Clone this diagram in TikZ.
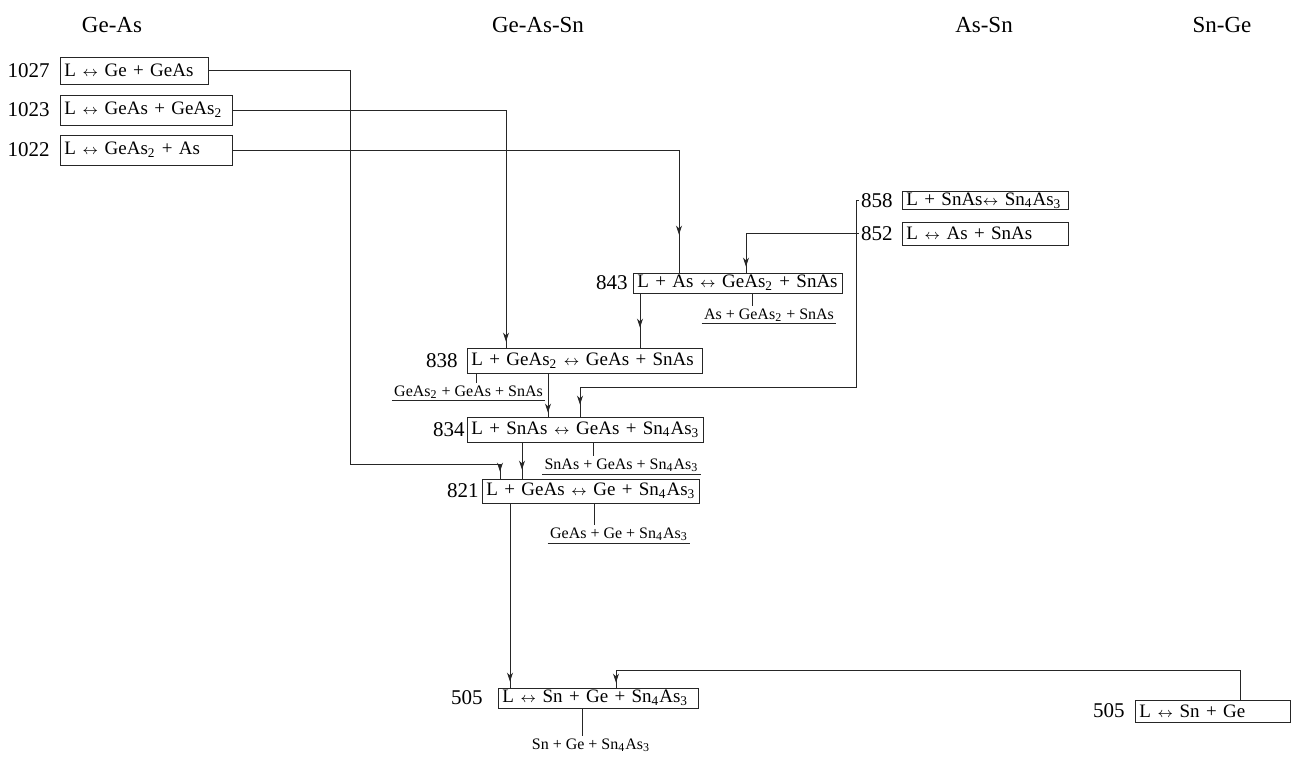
\documentclass[tikz,border=0pt]{standalone}
\usepackage{fontspec}
\setmainfont{Liberation Serif}
\usetikzlibrary{arrows.meta,positioning,decorations.markings}
\newcommand{\ix}[1]{\textsubscript{#1}}
\newcommand{\lr}{{\fontsize{7.5}{8}\selectfont$\leftrightarrow$}}
\tikzset{
  lw/.style={line width=0.45pt,draw=black!85},
  rbox/.style={draw,lw,inner xsep=2pt,inner ysep=1pt,align=left,text width=#1,anchor=west,font=\fontsize{9.5}{10}\selectfont},
  num/.style={inner sep=1pt,font=\fontsize{10.5}{12}\selectfont},
  ttl/.style={font=\fontsize{11.5}{13}\selectfont},
  prod/.style={inner sep=1pt,font=\fontsize{8}{9}\selectfont},
  conn/.style={lw,postaction={decorate},decoration={markings,mark=at position -#1 with {\arrow{Stealth[length=4.5pt,width=3pt]}}}},
  line/.style={lw},
}
\begin{document}
\begin{tikzpicture}[x=0.5pt,y=-0.5pt]
\useasboundingbox (0,0) rectangle (1296,756);
% system headings
\node[ttl] (tGeAs) at (112,25) {Ge-As};
\node[ttl] (tGeAsSn) at (538,25) {Ge-As-Sn};
\node[ttl] (tAsSn) at (984,25) {As-Sn};
\node[ttl] (tSnGe) at (1222,25) {Sn-Ge};
% binary Ge-As
\node[rbox=70pt,minimum height=13.5pt] (b1027) at (60,70.5) {L \lr\ Ge + GeAs};
\node[num,left=4pt of b1027] (n1027) {1027};
\node[rbox=82pt,minimum height=15pt] (b1023) at (60,110) {L \lr\ GeAs + GeAs\ix{2}};
\node[num,left=4pt of b1023] (n1023) {1023};
\node[rbox=82pt,minimum height=15pt] (b1022) at (60,150) {L \lr\ GeAs\ix{2} + As};
\node[num,left=4pt of b1022] (n1022) {1022};
% binary As-Sn
\node[rbox=79pt,inner ysep=0.5pt] (b858) at (902,200.5) {L + SnAs\lr\ Sn\ix{4}As\ix{3}};
\node[num,left=3.5pt of b858] (n858) {858};
\node[rbox=79pt,minimum height=11.5pt] (b852) at (902,233.5) {L \lr\ As + SnAs};
\node[num,left=3.5pt of b852] (n852) {852};
% ternary
\node[rbox=100.5pt,minimum height=10pt] (b843) at (633,283) {L + As \lr\ GeAs\ix{2} + SnAs};
\node[num,left=1.5pt of b843] (n843) {843};
\node[rbox=113.5pt,minimum height=12.5pt] (b838) at (467,360.5) {L + GeAs\ix{2} \lr\ GeAs + SnAs};
\node[num,left=3.5pt of b838] (n838) {838};
\node[rbox=114pt,minimum height=12.5pt] (b834) at (467,429.5) {L + SnAs \lr\ GeAs + Sn\ix{4}As\ix{3}};
\node[num,left=0pt of b834] (n834) {834};
\node[rbox=104.5pt,minimum height=12pt] (b821) at (482,491) {L + GeAs \lr\ Ge + Sn\ix{4}As\ix{3}};
\node[num,left=0.5pt of b821] (n821) {821};
\node[rbox=96pt,minimum height=10pt] (b505) at (498,698) {L \lr\ Sn + Ge + Sn\ix{4}As\ix{3}};
\node[num,left=6.5pt of b505] (n505) {505};
% binary Sn-Ge
\node[rbox=73.5pt,minimum height=11pt] (bSnGe) at (1135,711) {L \lr\ Sn + Ge};
\node[num,left=4pt of bSnGe] (nSnGe) {505};
% phase fields below the reactions
\node[prod] (s843) at (769,315) {As + GeAs\ix{2} + SnAs};
\node[prod] (s838) at (468.5,392) {GeAs\ix{2} + GeAs + SnAs};
\node[prod] (s834) at (621.5,465) {SnAs + GeAs + Sn\ix{4}As\ix{3}};
\node[prod] (s821) at (619,534) {GeAs + Ge + Sn\ix{4}As\ix{3}};
\node[prod] (s505) at (591,745) {Sn + Ge + Sn\ix{4}As\ix{3}};
\foreach \s in {s843,s838,s834,s821}
  \draw[line] (\s.south west) -- (\s.south east);
\draw[line] ([xshift=59.5pt]b843.south west) coordinate (u1) -- (u1 |- s843.north);
\draw[line] ([xshift=4.5pt]b838.south west) coordinate (u2) -- (u2 |- s838.north);
\draw[line] ([xshift=63pt]b834.south west) coordinate (u3) -- (u3 |- s834.north);
\draw[line] ([xshift=56pt]b821.south west) coordinate (u4) -- (u4 |- s821.north);
\draw[line] ([xshift=42pt]b505.south west) coordinate (u5) -- (u5 |- s505.north);
% connectors
\coordinate (j1027) at (350,464);
\coordinate (j858) at (856,387);
\coordinate (j505) at (616,670);
\draw[conn=3.5pt] (b1027.east) -| (j1027) -| ([xshift=9pt]b821.north west);
\draw[conn=3pt] (b1023.east) -| ([xshift=19.5pt]b838.north west);
\draw[conn=19pt] (b1022.east) -| ([xshift=23pt]b843.north west);
\draw[conn=3pt] (n852.west) -| ([xshift=56.5pt]b843.north west);
\draw[conn=6pt] (n858.west) -| (j858) -| ([xshift=56.5pt]b834.north west);
\draw[conn=10pt] ([xshift=3.5pt]b843.south west) coordinate (t1) -- (t1 |- b838.north);
\draw[conn=2pt] ([xshift=40.5pt]b838.south west) coordinate (t2) -- (t2 |- b834.north);
\draw[conn=4.5pt] ([xshift=27.5pt]b834.south west) coordinate (t3) -- (t3 |- b821.north);
\draw[conn=3pt] ([xshift=14pt]b821.south west) coordinate (t4) -- (t4 |- b505.north);
\draw[conn=2.5pt] ([xshift=52.5pt]bSnGe.north west) |- (j505) -- (j505 |- b505.north);
\end{tikzpicture}
\end{document}
